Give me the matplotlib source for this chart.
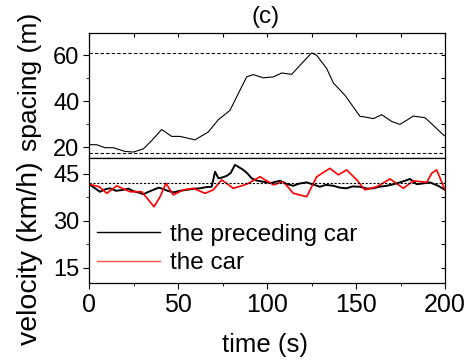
import matplotlib
matplotlib.use('Agg')
import matplotlib.pyplot as plt
from matplotlib.ticker import MultipleLocator

plt.rcParams['font.family'] = ['Liberation Sans', 'DejaVu Sans']

# spacing (m) vs time (s)
t_sp = [0, 4.1, 8.8, 13.5, 20, 24.8, 30.4, 35.1, 40.7, 46.3, 51, 59.4, 66.9, 72.5, 79.1,
        84.7, 88.5, 92.2, 97.8, 103.5, 108.2, 113.8, 119.4, 125, 127.8, 133.5, 137.2,
        143.8, 152.2, 155, 159.7, 164.4, 170, 174.7, 182.2, 188.8, 193.4, 199, 200]
spacing = [21.2, 21.2, 19.9, 19.9, 18.3, 18.0, 19.4, 23.0, 27.8, 24.8, 24.8, 23.3, 26.7, 32.0,
           36.1, 44.8, 50.6, 51.6, 50.2, 50.6, 52.3, 51.7, 56.4, 61.0, 60.0, 54.2, 48.0,
           42.6, 33.5, 33.2, 32.5, 34.2, 31.3, 30.0, 33.6, 32.9, 29.6, 25.5, 25.0]
spacing_hi = 61
spacing_lo = 17.8

# velocity (km/h) of the preceding car
t_pre = [0, 3, 6, 9, 11.6, 15, 19.1, 22, 24.7, 28, 30.4, 33, 36, 39, 41.6, 44, 47.2, 51, 54.8,
         58, 62.2, 66, 68.8, 70.7, 72.6, 75, 77.3, 79.5, 81.9, 84, 86.6, 89, 91.3, 94, 97.8,
         102, 107.2, 111, 114.7, 118, 122.2, 126, 129.7, 133, 137.2, 141, 144.7, 148, 152.2,
         156, 159.7, 163, 167.2, 171, 174.7, 178, 180.3, 184.1, 188, 191.6, 194, 196.2, 200]
v_pre = [41.7, 40.5, 39.3, 40.1, 40.4, 39.6, 39.9, 40.3, 39.5, 39.0, 38.5, 39.2, 39.9, 40.6,
         40.2, 39.6, 39.1, 39.6, 39.9, 40.2, 40.4, 40.8, 40.9, 45.7, 43.6, 43.9, 44.4, 45.3,
         47.9, 47.2, 46.3, 45.1, 43.6, 42.9, 42.5, 42.1, 42.8, 41.8, 41.2, 41.9, 42.3, 41.6,
         40.9, 41.5, 41.2, 40.6, 40.4, 41.0, 40.9, 40.3, 40.4, 40.9, 41.2, 41.7, 42.3, 42.9,
         43.4, 41.7, 42.0, 42.3, 41.7, 41.2, 39.9]

# velocity (km/h) of the car
t_car = [0, 5.6, 9.8, 15.4, 22.9, 29.5, 34.1, 36.4, 39.8, 43.1, 47.2, 52.9, 58.5, 65.1, 69.7,
         74.4, 81, 88.5, 96, 103.5, 109.1, 114.7, 122.2, 127.9, 135.3, 140, 144.7, 150.4,
         155, 161.6, 169.1, 176.6, 182.2, 189.7, 192.5, 195.3, 200]
v_car = [41.7, 40.9, 38.8, 41.2, 39.3, 39.3, 36.1, 34.5, 37.7, 42.0, 38.3, 39.9, 40.4, 38.8,
         39.9, 43.1, 40.4, 41.7, 44.1, 41.5, 42.5, 38.8, 37.7, 44.1, 46.8, 44.7, 46.3, 43.1,
         39.9, 40.9, 43.4, 40.4, 42.8, 42.3, 45.2, 46.3, 39.9]
v_ref = 42

fig = plt.figure(figsize=(4.69, 3.62), dpi=100)
L, W = 0.1904, 0.7584
ax1 = fig.add_axes([L, 0.5627, W, 0.908 - 0.5627])
ax2 = fig.add_axes([L, 0.2174, W, 0.5627 - 0.2174])

ax1.plot(t_sp, spacing, color='black', lw=0.8)
ax1.axhline(spacing_hi, color='black', lw=0.8, ls=(0, (3, 2)))
ax1.axhline(spacing_lo, color='black', lw=0.8, ls=(0, (3, 2)))
ax1.set_xlim(0, 200)
ax1.set_ylim(15.3, 69.5)
ax1.yaxis.set_major_locator(MultipleLocator(20))
ax1.yaxis.set_minor_locator(MultipleLocator(10))
ax1.xaxis.set_major_locator(MultipleLocator(25))
ax1.tick_params(axis='x', which='both', bottom=False, labelbottom=False, top=True,
                direction='in', length=3)
ax1.tick_params(axis='y', which='major', left=True, right=False, direction='out', length=4.5)
ax1.tick_params(axis='y', which='minor', left=True, direction='out', length=2.5)

ax2.plot(t_pre, v_pre, color='black', lw=1.4, label='the preceding car')
ax2.plot(t_car, v_car, color='red', lw=1.2, label='the car')
ax2.axhline(v_ref, color='black', lw=0.8, ls=(0, (2, 1.5)))
ax2.set_xlim(0, 200)
ax2.set_ylim(10, 50)
ax2.yaxis.set_major_locator(MultipleLocator(15))
ax2.yaxis.set_minor_locator(MultipleLocator(7.5))
ax2.xaxis.set_major_locator(MultipleLocator(50))
ax2.xaxis.set_minor_locator(MultipleLocator(25))
ax2.tick_params(axis='x', which='major', direction='out', length=4, labelsize=18, pad=3)
ax2.tick_params(axis='x', which='minor', direction='out', length=2.5)
ax2.tick_params(axis='y', which='major', direction='out', length=4.5)
ax2.tick_params(axis='y', which='minor', direction='out', length=2.5)

# inward ticks on the right side
for ax in (ax1, ax2):
    r = ax.secondary_yaxis('right')
    r.set_yticks(ax.get_yticks(minor=False).tolist() + ax.get_yticks(minor=True).tolist())
    r.tick_params(direction='in', length=3, labelright=False, width=0.8)
    r.spines['right'].set_visible(False)
    for s in ax.spines.values():
        s.set_linewidth(0.9)
    ax.tick_params(axis='y', labelsize=17, pad=2.5)
    ax.tick_params(width=0.8)

leg = ax2.legend(loc='lower left', bbox_to_anchor=(-0.02, -0.045), frameon=False,
                 fontsize=17.5, handlelength=2.6, handletextpad=0.4, labelspacing=0.28,
                 borderaxespad=0.2)
for h in leg.get_lines():
    h.set_linewidth(1.0)
leg.get_lines()[1].set_color('#ff5050')

fig.text(0.063, 0.775, 'spacing (m)', rotation=90, ha='center', va='center', fontsize=19)
fig.text(0.064, 0.30, 'velocity (km/h)', rotation=90, ha='center', va='center', fontsize=20.5)
fig.text(0.566, 0.047, 'time (s)', ha='center', va='center', fontsize=18.5)
fig.text(0.567, 0.953, '(c)', ha='center', va='center', fontsize=17.5)

fig.savefig('out.png', dpi=100)
